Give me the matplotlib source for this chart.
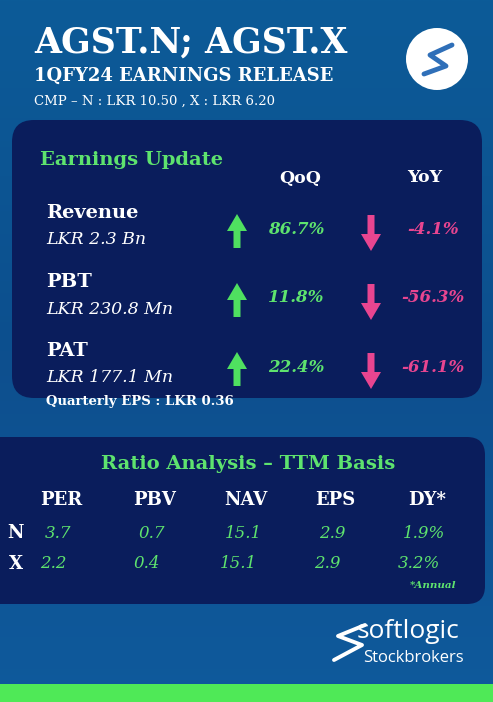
import matplotlib
matplotlib.use("Agg")
import matplotlib.pyplot as plt
from matplotlib.patches import FancyBboxPatch, Rectangle, FancyArrow, Circle
from matplotlib.colors import LinearSegmentedColormap
import numpy as np

metrics = ["Revenue", "PBT", "PAT"]
metric_vals = ["LKR 2.3 Bn", "LKR 230.8 Mn", "LKR 177.1 Mn"]
qoq = ["86.7%", "11.8%", "22.4%"]
yoy = ["-4.1%", "-56.3%", "-61.1%"]
ratio_cols = ["PER", "PBV", "NAV", "EPS", "DY*"]
row_labels = ["N", "X"]
n_vals = ["3.7", "0.7", "15.1", "2.9", "1.9%"]
x_vals = ["2.2", "0.4", "15.1", "2.9", "3.2%"]

SERIF = "DejaVu Serif"
GREEN = "#5ee36e"
PINK = "#e84590"
fig = plt.figure(figsize=(4.93, 7.02), dpi=100)
ax = fig.add_axes([0, 0, 1, 1])
ax.set_xlim(0, 493); ax.set_ylim(702, 0); ax.axis("off")

grad = np.linspace(0, 1, 256).reshape(-1, 1)
cm = LinearSegmentedColormap.from_list("bg", ["#0c5b98", "#0d4f8e", "#0f5a9c"])
ax.imshow(grad, cmap=cm, extent=[0, 493, 702, 0], aspect="auto", zorder=0)

ax.add_patch(FancyBboxPatch((12, 120), 470, 278, boxstyle="round,pad=0,rounding_size=22",
                            fc="#0a1d5c", ec="none", zorder=1))
ax.add_patch(FancyBboxPatch((-20, 437), 505, 167, boxstyle="round,pad=0,rounding_size=18",
                            fc="#0a1d5c", ec="none", zorder=1))
ax.add_patch(Rectangle((0, 684), 493, 18, fc="#4fe957", ec="none", zorder=1))

ax.text(34, 43, "AGST.N; AGST.X", color="white", fontsize=25, fontweight="bold",
        family=SERIF, va="center", zorder=3)
ax.text(34, 76, "1QFY24 EARNINGS RELEASE", color="white", fontsize=13, fontweight="bold",
        family=SERIF, va="center", zorder=3)
ax.text(34, 101, "CMP – N : LKR 10.50 , X : LKR 6.20", color="white", fontsize=9.5,
        family=SERIF, va="center", zorder=3)
ax.add_patch(Circle((437, 59), 31, fc="white", ec="none", zorder=3))
ax.plot([452, 430, 446, 424], [45, 55, 66, 74], color="#2f6fb8", lw=3.5,
        solid_capstyle="round", zorder=4)

ax.text(40, 160, "Earnings Update", color=GREEN, fontsize=14, fontweight="bold",
        family=SERIF, va="center", zorder=3)
ax.text(300, 178, "QoQ", color="white", fontsize=12.5, fontweight="bold", family=SERIF,
        ha="center", va="center", zorder=3)
ax.text(425, 178, "YoY", color="white", fontsize=12.5, fontweight="bold", family=SERIF,
        ha="center", va="center", zorder=3)
ys = [213, 282, 351]
for i, y in enumerate(ys):
    ax.text(46, y, metrics[i], color="white", fontsize=14, fontweight="bold",
            family=SERIF, va="center", zorder=3)
    ax.text(46, y + 27, metric_vals[i], color="white", fontsize=12.5, style="italic",
            family=SERIF, va="center", zorder=3)
    ax.add_patch(FancyArrow(237, y + 35, 0, -34, width=7, head_width=20, head_length=17,
                            length_includes_head=True, fc="#4fe060", ec="none", zorder=3))
    ax.add_patch(FancyArrow(371, y + 2, 0, 36, width=7, head_width=20, head_length=17,
                            length_includes_head=True, fc=PINK, ec="none", zorder=3))
    ax.text(296, y + 16, qoq[i], color=GREEN, fontsize=12, fontweight="bold", style="italic",
            family=SERIF, ha="center", va="center", zorder=3)
    ax.text(433, y + 16, yoy[i], color=PINK, fontsize=12, fontweight="bold", style="italic",
            family=SERIF, ha="center", va="center", zorder=3)
ax.text(46, 401, "Quarterly EPS : LKR 0.36", color="white", fontsize=9.5, fontweight="bold",
        family=SERIF, va="center", zorder=3)

ax.text(248, 464, "Ratio Analysis – TTM Basis", color=GREEN, fontsize=14, fontweight="bold",
        family=SERIF, ha="center", va="center", zorder=3)
cx = [61, 155, 246, 335, 427]
for j, c in enumerate(ratio_cols):
    ax.text(cx[j], 500, c, color="white", fontsize=13, fontweight="bold", family=SERIF,
            ha="center", va="center", zorder=3)
    ax.text(cx[j] - 3, 533, n_vals[j], color=GREEN, fontsize=12, style="italic",
            family=SERIF, ha="center", va="center", zorder=3)
    ax.text(cx[j] - 8, 564, x_vals[j], color=GREEN, fontsize=12, style="italic",
            family=SERIF, ha="center", va="center", zorder=3)
for lab, yy in zip(row_labels, [533, 564]):
    ax.text(16, yy, lab, color="white", fontsize=13, fontweight="bold", family=SERIF,
            ha="center", va="center", zorder=3)
ax.text(433, 586, "*Annual", color=GREEN, fontsize=7.5, fontweight="bold", style="italic",
        family=SERIF, ha="center", va="center", zorder=3)

ax.text(408, 632, "softlogic", color="white", fontsize=19, family="Open Sans",
        ha="center", va="center", zorder=3)
ax.text(413, 658, "Stockbrokers", color="white", fontsize=12, family="Open Sans",
        ha="center", va="center", zorder=3)
ax.plot([365, 338, 362, 334], [625, 636, 645, 660], color="white", lw=2.8,
        solid_capstyle="round", zorder=3)

fig.savefig("out.png", dpi=100)
